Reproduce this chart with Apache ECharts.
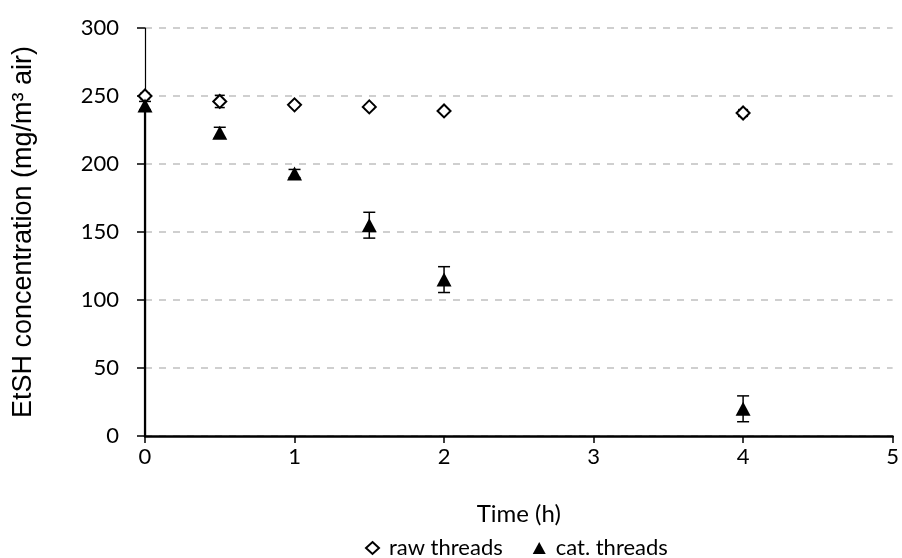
<!DOCTYPE html>
<html>
<head>
<meta charset="utf-8">
<script src="https://cdn.jsdelivr.net/npm/echarts@6/dist/echarts.min.js"></script>
<style>html,body{margin:0;padding:0;background:#fff}#c{width:902px;height:558px}</style>
</head>
<body>
<div id="c"></div>
<script>
var times = [0, 0.5, 1, 1.5, 2, 4];
var rawValues = [250, 246, 243.5, 242, 239, 237.5];
var rawErrors = [2, 4.5, 1.5, 1.5, 1.5, 2.5];
var catValues = [243, 223, 193, 155, 115, 20];
var catErrors = [3, 4, 3, 9.5, 9.5, 9.5];
var xTicks = [0, 1, 2, 3, 4, 5];
var yTicks = [0, 50, 100, 150, 200, 250, 300];

var font = 'Lato';
function pts(vals) { return times.map(function (t, i) { return [t, vals[i]]; }); }
function errData(vals, errs) { return times.map(function (t, i) { return [t, vals[i] - errs[i], vals[i] + errs[i]]; }); }
function errSeries(vals, errs, cap) {
  return {
    type: 'custom', silent: true, z: 3,
    data: errData(vals, errs),
    encode: { x: 0, y: [1, 2] },
    renderItem: function (params, api) {
      var lo = api.coord([api.value(0), api.value(1)]);
      var hi = api.coord([api.value(0), api.value(2)]);
      var s = { stroke: '#000', lineWidth: 1.5 };
      return { type: 'group', children: [
        { type: 'line', shape: { x1: lo[0], y1: lo[1], x2: hi[0], y2: hi[1] }, style: s },
        { type: 'line', shape: { x1: lo[0] - cap, y1: lo[1], x2: lo[0] + cap, y2: lo[1] }, style: s },
        { type: 'line', shape: { x1: hi[0] - cap, y1: hi[1], x2: hi[0] + cap, y2: hi[1] }, style: s }
      ]};
    }
  };
}

var chart = echarts.init(document.getElementById('c'));
chart.setOption({
  animation: false,
  grid: { left: 145, right: 6, top: 28, bottom: 122 },
  xAxis: {
    type: 'value', min: xTicks[0], max: xTicks[xTicks.length - 1], interval: 1,
    name: 'Time (h)', nameLocation: 'middle', nameGap: 66,
    nameTextStyle: { fontFamily: font, fontSize: 24, color: '#000' },
    axisLine: { lineStyle: { color: '#000', width: 2.5 } },
    axisTick: { show: true, inside: false, length: 7, lineStyle: { color: '#000', width: 1.5 } },
    axisLabel: { margin: 10, fontFamily: font, fontSize: 22, color: '#000' },
    splitLine: { show: false }
  },
  yAxis: {
    type: 'value', min: yTicks[0], max: yTicks[yTicks.length - 1], interval: 50,
    name: 'EtSH concentration (mg/m³ air)', nameLocation: 'middle', nameGap: 108,
    nameTextStyle: { fontFamily: 'Liberation Sans', fontSize: 27, color: '#000' },
    axisLine: { show: true, lineStyle: { color: '#000', width: 1.2 } },
    axisTick: { show: true, inside: false, length: 8, lineStyle: { color: '#000', width: 1.5 } },
    axisLabel: { margin: 26, fontFamily: font, fontSize: 22, color: '#000' },
    splitLine: { show: true, lineStyle: { color: '#c0c0c0', width: 1.5, type: [7, 7] } }
  },
  legend: {
    top: 532, left: 360, itemGap: 30, itemWidth: 13, itemHeight: 12,
    data: ['raw threads', 'cat. threads'],
    textStyle: { fontFamily: font, fontSize: 22, color: '#000', padding: [0, 0, 0, 5] }
  },
  series: [
    { type: 'line', silent: true, data: [[0, 0], [0, catValues[0]]], showSymbol: false, symbol: 'none',
      lineStyle: { color: '#000', width: 2.2 }, z: 1 },
    errSeries(rawValues, rawErrors, 5),
    errSeries(catValues, catErrors, 6),
    { name: 'raw threads', type: 'scatter', data: pts(rawValues), symbol: 'diamond', symbolSize: [13, 13],
      itemStyle: { color: '#fff', borderColor: '#000', borderWidth: 2, opacity: 1 }, z: 4 },
    { name: 'cat. threads', type: 'scatter', data: pts(catValues), symbol: 'triangle', symbolSize: [15, 14],
      itemStyle: { color: '#000', opacity: 1 }, z: 5 }
  ]
});
</script>
</body>
</html>
